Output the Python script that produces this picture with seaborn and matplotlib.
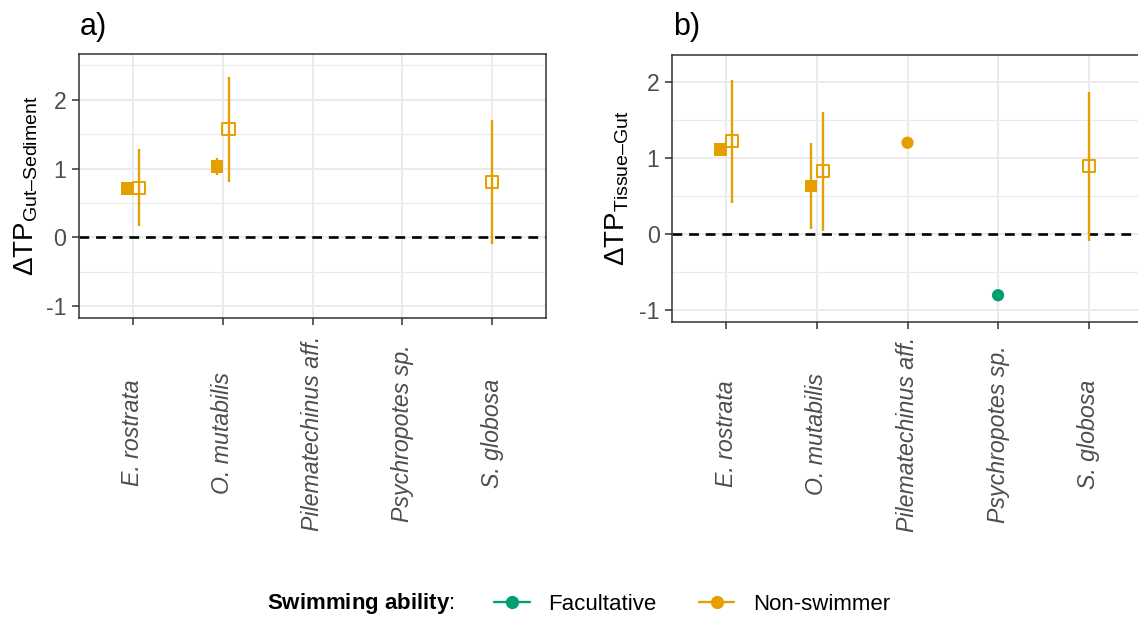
import numpy as np
import pandas as pd
import matplotlib
matplotlib.use("Agg")
import matplotlib.pyplot as plt
import seaborn as sns
from matplotlib.lines import Line2D
from matplotlib.ticker import MultipleLocator

nan = np.nan

# ---------------- data ----------------
species = ["E. rostrata", "O. mutabilis", "Pilematechinus aff.", "Psychropotes sp.", "S. globosa"]
swimming = ["Non-swimmer", "Non-swimmer", "Non-swimmer", "Facultative", "Non-swimmer"]
methods = ["Single", "Filled", "Open"]  # circle, filled square, open square

# panel a: ΔTP Gut−Sediment
a_single = [nan, nan, nan, nan, nan]
a_filled = [0.71, 1.03, nan, nan, nan]
a_filled_lo = [nan, 0.91, nan, nan, nan]
a_filled_hi = [nan, 1.16, nan, nan, nan]
a_open = [0.72, 1.57, nan, nan, 0.81]
a_open_lo = [0.16, 0.80, nan, nan, -0.09]
a_open_hi = [1.28, 2.33, nan, nan, 1.71]

# panel b: ΔTP Tissue−Gut
b_single = [nan, nan, 1.20, -0.81, nan]
b_filled = [1.11, 0.63, nan, nan, nan]
b_filled_lo = [nan, 0.06, nan, nan, nan]
b_filled_hi = [nan, 1.20, nan, nan, nan]
b_open = [1.22, 0.83, nan, nan, 0.89]
b_open_lo = [0.40, 0.04, nan, nan, -0.10]
b_open_hi = [2.03, 1.60, nan, nan, 1.87]

legend_levels = ["Facultative", "Non-swimmer"]
palette = {"Facultative": "#009E73", "Non-swimmer": "#E69F00"}

# ---------------- style ----------------
sns.set_theme(style="ticks")
plt.rcParams["font.family"] = ["Liberation Sans", "DejaVu Sans"]
plt.rcParams["mathtext.fontset"] = "custom"
plt.rcParams["mathtext.rm"] = "Liberation Sans"
plt.rcParams["mathtext.it"] = "Liberation Sans:italic"
plt.rcParams["mathtext.bf"] = "Liberation Sans:bold"
plt.rcParams["mathtext.default"] = "regular"
plt.rcParams["axes.unicode_minus"] = False
plt.rcParams["text.color"] = "black"


def build(single, filled, flo, fhi, opn, olo, ohi, dodge=0.13):
    rows = []
    for i, sp in enumerate(species):
        trip = [(single[i], nan, nan), (filled[i], flo[i], fhi[i]), (opn[i], olo[i], ohi[i])]
        for m, (v, lo, hi) in zip(methods, trip):
            if not np.isnan(v):
                rows.append(dict(species=sp, swim=swimming[i], method=m,
                                 mean=v, lo=lo, hi=hi, idx=i))
    df = pd.DataFrame(rows)
    df["n"] = df.groupby("species")["method"].transform("count")
    df["k"] = df.groupby("species").cumcount()
    df["x"] = df["idx"] + (df["k"] - (df["n"] - 1) / 2) * dodge
    return df


def draw(ax, df, ylim, ylabel, xpad, ylab_x):
    ax.axhline(0, color="black", lw=1.9, ls=(0, (3.7, 2.6)), zorder=1.5)
    eb = df.dropna(subset=["lo"])
    ax.vlines(eb["x"], eb["lo"], eb["hi"],
              colors=[palette[s] for s in eb["swim"]], lw=1.7, zorder=2)
    solid = df[df["method"] != "Open"]
    if len(solid):
        sns.scatterplot(data=solid, x="x", y="mean", hue="swim", style="method",
                        markers={"Single": "o", "Filled": "s"}, palette=palette,
                        s=78, linewidth=0, legend=False, ax=ax, zorder=3)
    opn = df[df["method"] == "Open"]
    sns.scatterplot(data=opn, x="x", y="mean", hue="swim", palette=palette,
                    marker="s", s=76, legend=False, ax=ax, zorder=4)
    coll = ax.collections[-1]
    coll.set_edgecolor(coll.get_facecolors())
    coll.set_facecolor("none")
    coll.set_linewidth(1.4)

    ax.set_xlim(-0.6, 4.6)
    ax.set_ylim(*ylim)
    ax.set_xticks(range(len(species)))
    ax.set_xticklabels(species, rotation=90, style="italic", va="center", ha="center")
    ax.set_yticks([-1, 0, 1, 2])
    ax.set_yticklabels(["-1", "0", "1", "2"])
    ax.yaxis.set_minor_locator(MultipleLocator(0.5))
    ax.tick_params(which="minor", length=0)
    ax.tick_params(which="major", length=5, width=1.1, color="#333333",
                   labelsize=16.7, labelcolor="#4D4D4D")
    ax.tick_params(axis="y", pad=4)
    ax.tick_params(axis="x", pad=xpad)
    ax.grid(which="major", color="#EBEBEB", lw=1.4)
    ax.grid(which="minor", axis="y", color="#EBEBEB", lw=0.8)
    ax.set_axisbelow(True)
    for s in ax.spines.values():
        s.set_color("#333333")
        s.set_linewidth(1.1)
        s.set_visible(True)
    ax.set_xlabel("")
    ax.set_ylabel(ylabel, fontsize=20, color="black")
    ax.yaxis.set_label_coords(ylab_x, 0.5)


W, H = 1138, 618
fig = plt.figure(figsize=(W / 100, H / 100), dpi=100)
axA = fig.add_axes([79 / W, 1 - 318 / H, 467 / W, 264 / H])
axB = fig.add_axes([672 / W, 1 - 322 / H, 471 / W, 267 / H])

dfA = build(a_single, a_filled, a_filled_lo, a_filled_hi, a_open, a_open_lo, a_open_hi)
dfB = build(b_single, b_filled, b_filled_lo, b_filled_hi, b_open, b_open_lo, b_open_hi)

draw(axA, dfA, (-1.17, 2.666), "ΔTP$_{Gut\u2013Sediment}$", 77.8, -0.083)
draw(axB, dfB, (-1.163, 2.356), "ΔTP$_{Tissue\u2013Gut}$", 75.6, -0.0865)

fig.text(80 / W, 1 - 27 / H, "a)", fontsize=22, va="center", ha="left")
fig.text(673 / W, 1 - 27 / H, "b)", fontsize=22, va="center", ha="left")

# legend
fig.text(267 / W, 1 - 604 / H, r"$\mathbf{Swimming\ ability}$:", fontsize=16,
         va="center", ha="left")
handles = [Line2D([0], [0], color=palette[l], lw=1.7, marker="o", markersize=8.5)
           for l in legend_levels]
fig.legend(handles, legend_levels, loc="center left",
           bbox_to_anchor=(494 / W, 1 - 604 / H), ncol=2, frameon=False,
           fontsize=16, handlelength=1.6, handletextpad=0.85, columnspacing=1.9,
           borderpad=0, borderaxespad=0)

fig.savefig("out.png", dpi=100)
